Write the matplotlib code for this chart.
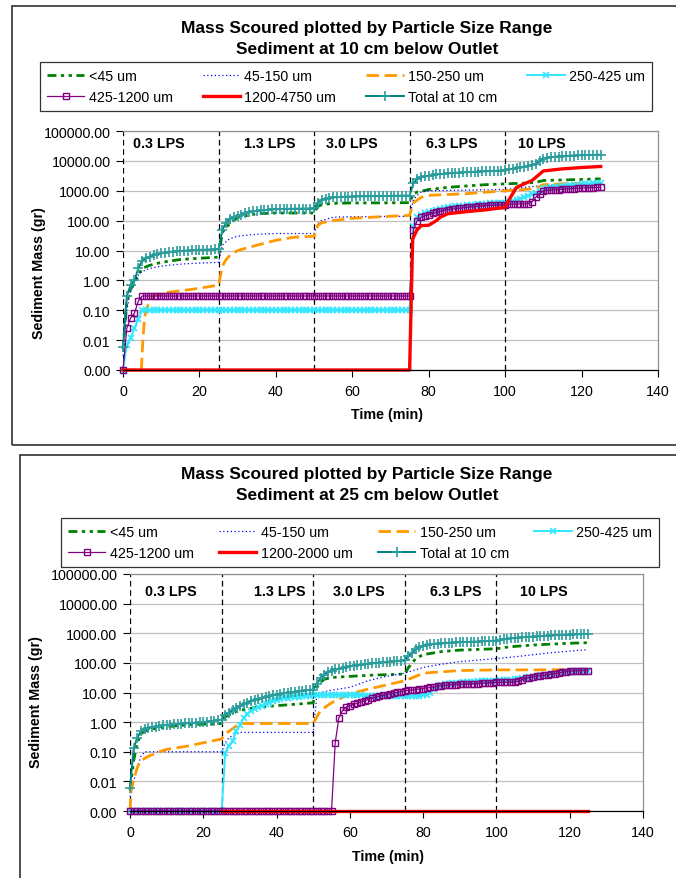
import numpy as np
import matplotlib
matplotlib.use('Agg')
import matplotlib.pyplot as plt
from matplotlib.patches import Rectangle
from matplotlib.ticker import FormatStrFormatter, NullLocator

plt.rcParams['font.family'] = ['Liberation Sans', 'DejaVu Sans']

W, H = 676, 879

# one reading a minute for the marker series
minutes = np.arange(0, 126)

x_ticks = [0, 20, 40, 60, 80, 100, 120, 140]
y_ticks = [0.001, 0.01, 0.1, 1, 10, 100, 1000, 10000, 100000]
flow_changes = [0, 25, 50, 75, 100]
flow_labels = ['0.3 LPS', '1.3 LPS', '3.0 LPS', '6.3 LPS', '10 LPS']

# ---------------- 10 cm below outlet ----------------
fine_10_t = [0, 1, 2, 3, 4, 5, 7, 10, 15, 20, 25, 26, 27, 28, 30, 35, 40, 45, 50,
             51, 52, 55, 60, 70, 75, 76, 77, 78, 80, 85, 90, 95, 100, 105, 108,
             110, 115, 120, 125]
fine_10 = [0.005, 0.2, 0.5, 0.8, 1.5, 2.5, 3.2, 4.0, 5.0, 5.5, 6.0, 40, 60, 80,
           130, 170, 180, 180, 180, 300, 340, 380, 390, 395, 400, 800, 900, 950,
           1100, 1300, 1450, 1600, 1700, 1800, 1900, 2200, 2300, 2400, 2500]

silt_10_t = [0, 1, 2, 3, 4, 5, 7, 10, 15, 20, 25, 26, 27, 28, 30, 35, 40, 50, 51,
             52, 55, 60, 75, 76, 77, 78, 80, 90, 100, 105, 110, 115, 120, 125]
silt_10 = [0.003, 0.1, 0.5, 0.9, 1.5, 2.0, 2.5, 3.0, 3.5, 3.8, 4.0, 15, 20, 25,
           30, 35, 37, 37, 80, 100, 130, 135, 140, 500, 700, 900, 1000, 1050,
           1100, 1300, 1500, 1600, 1700, 1800]

sand_10_t = [0, 4.8, 5.2, 5.6, 6, 7, 8, 10, 12, 15, 18, 22, 25, 26, 27, 28, 30, 35,
             40, 45, 50, 51, 52, 55, 60, 70, 75, 76, 78, 80, 90, 100, 105, 108,
             110, 115, 120, 125]
sand_10 = [0.001, 0.001, 0.01, 0.05, 0.1, 0.2, 0.3, 0.35, 0.4, 0.45, 0.5, 0.6,
           0.7, 3, 5, 7, 10, 15, 22, 28, 30, 70, 85, 100, 120, 140, 150, 400,
           600, 700, 800, 1000, 1100, 1200, 1600, 1700, 1750, 1800]

medium_10 = [
    0.001, 0.007, 0.012, 0.025, 0.05, 0.1, 0.1, 0.1, 0.1, 0.1,
    0.1, 0.1, 0.1, 0.1, 0.1, 0.1, 0.1, 0.1, 0.1, 0.1,
    0.1, 0.1, 0.1, 0.1, 0.1, 0.1, 0.1, 0.1, 0.1, 0.1,
    0.1, 0.1, 0.1, 0.1, 0.1, 0.1, 0.1, 0.1, 0.1, 0.1,
    0.1, 0.1, 0.1, 0.1, 0.1, 0.1, 0.1, 0.1, 0.1, 0.1,
    0.1, 0.1, 0.1, 0.1, 0.1, 0.1, 0.1, 0.1, 0.1, 0.1,
    0.1, 0.1, 0.1, 0.1, 0.1, 0.1, 0.1, 0.1, 0.1, 0.1,
    0.1, 0.1, 0.1, 0.1, 0.1, 0.1, 68, 130, 160, 180,
    200, 215, 230, 245, 262, 280, 290, 300, 310, 320,
    330, 338, 346, 354, 362, 370, 376, 382, 388, 394,
    400, 420, 450, 500, 550, 600, 680, 760, 850, 1000,
    1200, 1250, 1300, 1340, 1380, 1420, 1460, 1500, 1540, 1580,
    1620, 1660, 1700, 1750, 1800, 1850]

coarse_10 = [
    0.001, 0.025, 0.055, 0.08, 0.2, 0.3, 0.3, 0.3, 0.3, 0.3,
    0.3, 0.3, 0.3, 0.3, 0.3, 0.3, 0.3, 0.3, 0.3, 0.3,
    0.3, 0.3, 0.3, 0.3, 0.3, 0.3, 0.3, 0.3, 0.3, 0.3,
    0.3, 0.3, 0.3, 0.3, 0.3, 0.3, 0.3, 0.3, 0.3, 0.3,
    0.3, 0.3, 0.3, 0.3, 0.3, 0.3, 0.3, 0.3, 0.3, 0.3,
    0.3, 0.3, 0.3, 0.3, 0.3, 0.3, 0.3, 0.3, 0.3, 0.3,
    0.3, 0.3, 0.3, 0.3, 0.3, 0.3, 0.3, 0.3, 0.3, 0.3,
    0.3, 0.3, 0.3, 0.3, 0.3, 0.3, 50, 100, 130, 145,
    160, 175, 190, 205, 218, 230, 240, 250, 260, 270,
    280, 288, 296, 304, 312, 320, 325, 330, 334, 337,
    340, 350, 355, 358, 360, 362, 370, 420, 600, 800,
    1000, 1030, 1060, 1080, 1100, 1120, 1140, 1160, 1180, 1200,
    1220, 1240, 1260, 1280, 1290, 1300]

gravel_10_t = [0, 75, 75.8, 76.8, 78, 80, 82, 83, 85, 90, 95, 100, 101, 103, 105,
               107, 108, 110, 115, 120, 125]
gravel_10 = [0.001, 0.001, 24, 46, 68, 70, 100, 130, 170, 200, 230, 280, 500,
             1300, 1700, 2200, 2800, 4600, 5400, 6000, 6500]

total_10 = [
    0.006, 0.3, 0.7, 1.0, 2.5, 4.5, 5.5, 6.2, 7.0, 7.6,
    8.0, 8.4, 8.8, 9.1, 9.4, 9.6, 9.8, 10.0, 10.2, 10.4,
    10.5, 10.6, 10.7, 10.8, 10.9, 11.0, 50, 85, 115, 130,
    145, 160, 175, 190, 203, 213, 220, 226, 231, 236,
    240, 243, 245, 247, 249, 250, 251, 252, 253, 254,
    255, 400, 500, 550, 580, 600, 610, 620, 630, 635,
    640, 645, 650, 655, 658, 660, 663, 666, 669, 672,
    675, 678, 681, 684, 687, 690, 1800, 2500, 2800, 3000,
    3200, 3350, 3500, 3600, 3700, 3800, 3900, 3980, 4050, 4120,
    4200, 4260, 4320, 4380, 4440, 4500, 4560, 4620, 4680, 4740,
    4800, 5200, 5500, 5800, 6100, 6400, 6800, 7200, 8000, 10000,
    12000, 12800, 13300, 13700, 14000, 14300, 14600, 14900, 15100, 15300,
    15500, 15700, 15800, 15900, 16000, 16100]

# ---------------- 25 cm below outlet ----------------
fine_25_t = [0, 1, 2, 3, 4, 5, 10, 15, 20, 25, 26, 28, 30, 35, 40, 45, 50, 51, 52,
             53, 55, 60, 65, 70, 75, 76, 78, 80, 85, 90, 100, 102, 105, 110, 115,
             120, 125]
fine_25 = [0.005, 0.05, 0.2, 0.4, 0.5, 0.55, 0.7, 0.8, 0.85, 0.9, 1.5, 2.0, 2.5,
           3.2, 3.6, 4.0, 4.5, 15, 22, 28, 32, 35, 38, 40, 42, 70, 140, 190, 240,
           270, 300, 330, 360, 400, 430, 460, 480]

silt_25_t = [0, 1, 2, 3, 4, 5, 25, 26, 27, 28, 30, 50, 51, 52, 55, 60, 65, 70, 75,
             80, 85, 90, 100, 105, 110, 115, 120, 125]
silt_25 = [0.003, 0.01, 0.03, 0.07, 0.1, 0.1, 0.1, 0.2, 0.3, 0.35, 0.45, 0.45, 8,
           10, 12, 15, 25, 35, 45, 70, 90, 110, 140, 160, 190, 220, 250, 280]

sand_25_t = [0, 0.3, 1, 2, 3, 5, 8, 10, 15, 20, 25, 26, 28, 30, 32, 50, 51, 52, 55,
             57, 60, 65, 70, 75, 78, 80, 85, 90, 100, 110, 125]
sand_25 = [0.001, 0.005, 0.011, 0.03, 0.05, 0.07, 0.1, 0.12, 0.15, 0.2, 0.27, 0.4,
           0.6, 0.9, 0.9, 0.9, 1.5, 2.5, 4.5, 6, 9, 13, 18, 25, 35, 45, 50, 55,
           58, 58, 60]

medium_25 = [
    0.001, 0.001, 0.001, 0.001, 0.001, 0.001, 0.001, 0.001, 0.001, 0.001,
    0.001, 0.001, 0.001, 0.001, 0.001, 0.001, 0.001, 0.001, 0.001, 0.001,
    0.001, 0.001, 0.001, 0.001, 0.001, 0.001, 0.09, 0.16, 0.23, 0.5,
    0.78, 1.4, 1.9, 2.4, 2.8, 3.2, 3.6, 4.0, 4.5, 5.0,
    5.5, 5.9, 6.3, 6.6, 6.9, 7.1, 7.3, 7.5, 7.7, 7.9,
    8.0, 8.1, 8.2, 8.2, 8.3, 8.3, 8.3, 8.2, 8.2, 8.1,
    8.1, 8.0, 8.0, 8.0, 7.9, 7.9, 7.9, 7.8, 7.8, 7.8,
    7.8, 7.8, 7.8, 7.8, 7.8, 7.8, 7.8, 7.8, 7.9, 7.9,
    8.0, 8.5, 10, 13, 16, 18, 19, 20, 20.5, 21,
    21.5, 22, 22.5, 23, 23.5, 24, 24.3, 24.6, 24.8, 25,
    25, 25.5, 26, 26.5, 27, 27.5, 28.5, 30, 31.5, 33,
    34.5, 36, 37.5, 39, 40.5, 42, 43.5, 45, 46.5, 48,
    49.5, 51, 52, 53, 54, 55]

coarse_25 = [
    0.001, 0.001, 0.001, 0.001, 0.001, 0.001, 0.001, 0.001, 0.001, 0.001,
    0.001, 0.001, 0.001, 0.001, 0.001, 0.001, 0.001, 0.001, 0.001, 0.001,
    0.001, 0.001, 0.001, 0.001, 0.001, 0.001, 0.001, 0.001, 0.001, 0.001,
    0.001, 0.001, 0.001, 0.001, 0.001, 0.001, 0.001, 0.001, 0.001, 0.001,
    0.001, 0.001, 0.001, 0.001, 0.001, 0.001, 0.001, 0.001, 0.001, 0.001,
    0.001, 0.001, 0.001, 0.001, 0.001, 0.001, 0.2, 1.4, 2.5, 3.2,
    3.6, 4.0, 4.3, 4.8, 5.3, 5.8, 6.3, 6.9, 7.5, 8.0,
    8.5, 9.0, 9.6, 10.2, 10.8, 11.4, 11.8, 12.2, 12.6, 13.1,
    13.6, 14.2, 14.8, 15.5, 16.2, 17.0, 17.4, 17.8, 18.2, 18.6,
    19.0, 19.2, 19.4, 19.6, 19.8, 20.0, 20.4, 20.8, 21.2, 21.6,
    22, 22, 22, 22, 22, 22.5, 24, 27, 30, 32,
    34, 35.5, 37, 38.5, 40, 41, 43, 45, 48, 51,
    53, 54, 55, 55, 55, 55]

gravel_25_t = [25, 125]
gravel_25 = [0.001, 0.001]

total_25 = [
    0.006, 0.13, 0.3, 0.5, 0.6, 0.65, 0.68, 0.71, 0.74, 0.77,
    0.8, 0.82, 0.84, 0.86, 0.88, 0.9, 0.92, 0.94, 0.96, 0.98,
    1.0, 1.04, 1.08, 1.12, 1.16, 1.2, 1.8, 2.1, 2.5, 3.0,
    3.5, 4.0, 4.5, 5.0, 5.5, 6.0, 6.5, 7.0, 7.5, 8.0,
    8.5, 9.0, 9.4, 9.8, 10.2, 10.6, 11.0, 11.4, 11.8, 12.2,
    12.6, 20, 30, 40, 48, 55, 60, 64, 68, 72,
    76, 80, 84, 87, 90, 93, 96, 99, 102, 105,
    108, 111, 114, 117, 120, 125, 170, 220, 290, 340,
    380, 400, 420, 435, 450, 460, 470, 478, 485, 492,
    500, 505, 510, 515, 520, 525, 530, 540, 550, 555,
    560, 590, 620, 650, 670, 690, 710, 730, 750, 760,
    770, 785, 800, 815, 830, 845, 860, 870, 880, 890,
    900, 910, 920, 930, 940, 950]

labels_10 = ['<45 um', '45-150 um', '150-250 um', '250-425 um',
             '425-1200 um', '1200-4750 um', 'Total at 10 cm']
labels_25 = ['<45 um', '45-150 um', '150-250 um', '250-425 um',
             '425-1200 um', '1200-2000 um', 'Total at 10 cm']

FS = 10.3


def fx(px):
    return px / W


def fy(py):
    return 1 - py / H


def draw_panel(ax, series, labels, lps_x, lps_y):
    (fine_t, fine, silt_t, silt, sand_t, sand, medium, coarse,
     gravel_t, gravel, total) = series
    hs = []
    hs += ax.plot(fine_t, fine, color='#008000', lw=2.0,
                  dashes=(3.2, 1.6, 1.2, 1.6, 1.2, 1.6))
    hs += ax.plot(silt_t, silt, color='#0000ff', lw=0.9, dashes=(1, 2.0))
    hs += ax.plot(sand_t, sand, color='#ff9900', lw=2.0, dashes=(4.5, 2.0))
    hs += ax.plot(minutes, medium, color='#33e6ff', lw=1.4, marker='x',
                  ms=5, mew=1.2)
    hs += ax.plot(minutes, coarse, color='#800080', lw=0.9, marker='s',
                  ms=4.2, mfc='none', mew=1.0)
    hs += ax.plot(gravel_t, gravel, color='#ff0000', lw=2.4)
    hs += ax.plot(minutes, total, color='#008080', lw=1.4, marker='+',
                  ms=6.5, mew=1.2, mec='#2a9d9d')
    for h in hs:
        h.set_clip_on(False)

    for x in flow_changes:
        ax.axvline(x, color='black', lw=0.9, ls=(0, (4.5, 3)), zorder=1.5)
    for x, lab in zip(lps_x, flow_labels):
        ax.text(x, lps_y, lab, transform=ax.get_xaxis_transform(),
                ha='center', va='center', fontsize=FS, weight='bold')

    ax.set_yscale('log')
    ax.set_xlim(0, 140)
    ax.set_ylim(0.001, 100000)
    ax.set_xticks(x_ticks)
    ax.set_yticks(y_ticks)
    ax.yaxis.set_major_formatter(FormatStrFormatter('%.2f'))
    ax.yaxis.set_minor_locator(NullLocator())
    ax.tick_params(axis='both', labelsize=FS, length=5, width=0.8,
                   color='black', labelcolor='black')
    ax.tick_params(axis='x', pad=5)
    ax.tick_params(axis='y', pad=4)
    ax.grid(axis='y', color='#c0c0c0', lw=0.9)
    ax.set_axisbelow(True)
    ax.spines['left'].set_visible(False)
    ax.spines['bottom'].set_color('black')
    ax.spines['bottom'].set_linewidth(0.9)
    for s in ('top', 'right'):
        ax.spines[s].set_color('#909090')
        ax.spines[s].set_linewidth(0.9)

    # legend filled row by row like the original
    order = [0, 4, 1, 5, 2, 6, 3]
    return [hs[i] for i in order], [labels[i] for i in order]


fig = plt.figure(figsize=(W / 100, H / 100), dpi=100)

# chart frames
fig.add_artist(Rectangle((fx(12), fy(446)), fx(700 - 12), (446 - 7) / H,
                         transform=fig.transFigure, fill=False,
                         ec='#303030', lw=1.2))
fig.add_artist(Rectangle((fx(20), fy(900)), fx(700 - 20), (900 - 456) / H,
                         transform=fig.transFigure, fill=False,
                         ec='#303030', lw=1.2))

ax1 = fig.add_axes([fx(123), fy(371), fx(658 - 123), (371 - 132) / H])
ax2 = fig.add_axes([fx(130), fy(812), fx(643 - 130), (812 - 575) / H])

h1, l1 = draw_panel(ax1, (fine_10_t, fine_10, silt_10_t, silt_10, sand_10_t,
                          sand_10, medium_10, coarse_10, gravel_10_t, gravel_10,
                          total_10),
                    labels_10, [9.4, 38.5, 60, 86, 109.5], 0.95)
h2, l2 = draw_panel(ax2, (fine_25_t, fine_25, silt_25_t, silt_25, sand_25_t,
                          sand_25, medium_25, coarse_25, gravel_25_t, gravel_25,
                          total_25),
                    labels_25, [11.2, 40.9, 62.5, 89, 113], 0.93)

# titles
fig.text(fx(367), fy(28), 'Mass Scoured plotted by Particle Size Range',
         ha='center', va='center', fontsize=12.5, weight='bold')
fig.text(fx(367), fy(49), 'Sediment at 10 cm below Outlet',
         ha='center', va='center', fontsize=12.5, weight='bold')
fig.text(fx(367), fy(475), 'Mass Scoured plotted by Particle Size Range',
         ha='center', va='center', fontsize=12.5, weight='bold')
fig.text(fx(367), fy(496), 'Sediment at 25 cm below Outlet',
         ha='center', va='center', fontsize=12.5, weight='bold')

# axis titles
fig.text(fx(39), fy(273), 'Sediment Mass (gr)', rotation=90, ha='center',
         va='center', fontsize=FS, weight='bold')
fig.text(fx(387), fy(415), 'Time (min)', ha='center', va='center',
         fontsize=FS, weight='bold')
fig.text(fx(36), fy(702), 'Sediment Mass (gr)', rotation=90, ha='center',
         va='center', fontsize=FS, weight='bold')
fig.text(fx(388), fy(857), 'Time (min)', ha='center', va='center',
         fontsize=FS, weight='bold')

legend_kw = dict(loc='upper left', ncol=4, mode='expand', fontsize=FS,
                 frameon=True, fancybox=False, edgecolor='black',
                 borderpad=0.5, labelspacing=0.5, handlelength=2.6,
                 handletextpad=0.3, numpoints=1, borderaxespad=0)
lg1 = fig.legend(h1, l1, bbox_to_anchor=(fx(40), fy(63), fx(652 - 40), 0),
                 **legend_kw)
lg2 = fig.legend(h2, l2, bbox_to_anchor=(fx(61), fy(519), fx(659 - 61), 0),
                 **legend_kw)
for lg in (lg1, lg2):
    lg.get_frame().set_linewidth(0.9)

fig.savefig('out.png', dpi=100)
